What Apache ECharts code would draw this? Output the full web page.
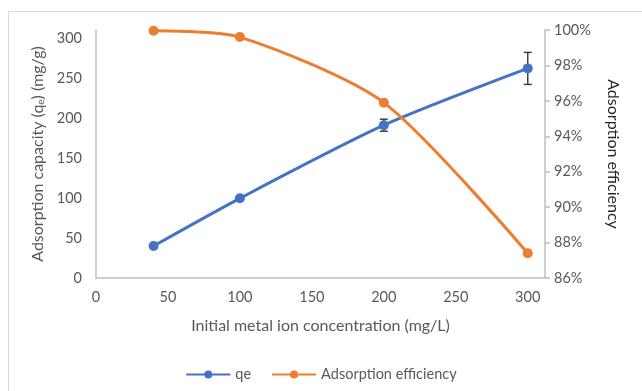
<!DOCTYPE html>
<html><head><meta charset="utf-8">
<script src="https://cdn.jsdelivr.net/npm/echarts@6/dist/echarts.min.js"></script>
<style>html,body{margin:0;padding:0;background:#fff}#c{width:642px;height:391px}</style>
</head><body><div id="c"></div>
<script>
var concentrations = [40, 100, 200, 300];
var qe = [40, 99.6, 191, 262];
var qeError = [0, 0, 7.5, 20];
var efficiency = [99.96, 99.6, 95.9, 87.4];
var xTicks = [0, 50, 100, 150, 200, 250, 300];

var chart = echarts.init(document.getElementById('c'));
var font = 'Lato, "Open Sans", sans-serif';
var qeData = concentrations.map(function(x, i){ return [x, qe[i]]; });
var effData = concentrations.map(function(x, i){ return [x, efficiency[i]]; });
var errData = concentrations.map(function(x, i){ return [x, qe[i] - qeError[i], qe[i] + qeError[i]]; }).filter(function(d, i){ return qeError[i] > 0; });

chart.setOption({
  animation: false,
  backgroundColor: '#fff',
  textStyle: {fontFamily: font},
  graphic: [{type: 'rect', shape: {x: 8.5, y: 11.5, width: 700, height: 400}, style: {fill: 'none', stroke: '#d9d9d9', lineWidth: 1}, silent: true}],
  grid: {left: 96, right: 97, top: 30, bottom: 113, containLabel: false},
  legend: {
    top: 362, left: 'center', itemWidth: 44, itemHeight: 10, itemGap: 20,
    textStyle: {color: '#595959', fontSize: 14.5, fontFamily: font},
    data: ['qe', 'Adsorption efficiency']
  },
  xAxis: {
    type: 'value', min: 0, max: 312, interval: 50,
    name: 'Initial metal ion concentration (mg/L)', nameLocation: 'middle', nameGap: 40,
    nameTextStyle: {color: '#595959', fontSize: 16, fontFamily: font},
    axisLine: {show: true, lineStyle: {color: '#bfbfbf', width: 1.5}},
    axisTick: {show: false},
    splitLine: {show: false},
    axisLabel: {color: '#595959', fontSize: 14.5, margin: 12, showMaxLabel: false,
      formatter: function(v){ return xTicks.indexOf(v) >= 0 ? String(v) : ''; }}
  },
  yAxis: [{
    type: 'value', min: 0, max: 310, interval: 50,
    name: '{a|Adsorption capacity (q}{s|e}{a|) (mg/g)}', nameLocation: 'middle', nameGap: 40,
    nameTextStyle: {rich: {a: {color: '#595959', fontSize: 16, fontFamily: font}, s: {color: '#595959', fontSize: 10, fontFamily: font, verticalAlign: 'bottom', padding: [7,0,0,0]}}},
    axisLine: {show: true, lineStyle: {color: '#bfbfbf', width: 1.5}},
    axisTick: {show: false},
    splitLine: {show: false},
    axisLabel: {color: '#595959', fontSize: 14.5, margin: 14, showMaxLabel: false}
  }, {
    type: 'value', min: 86, max: 100, interval: 2, position: 'right',
    name: 'Adsorption efficiency', nameLocation: 'middle', nameGap: 60, nameRotate: -90,
    nameTextStyle: {color: '#262626', fontSize: 16, fontFamily: font},
    axisLine: {show: true, lineStyle: {color: '#bfbfbf', width: 1.5}},
    axisTick: {show: true, inside: false, length: 5, lineStyle: {color: '#bfbfbf', width: 1.5}},
    splitLine: {show: false},
    axisLabel: {color: '#595959', fontSize: 14.5, margin: 9, formatter: function(v){ return v + '%'; }}
  }],
  series: [{
    name: 'qe', type: 'line', data: qeData, yAxisIndex: 0, smooth: 0.25,
    symbol: 'circle', symbolSize: 10, clip: false,
    lineStyle: {color: '#4472c4', width: 3}, itemStyle: {color: '#4472c4'}, z: 3
  }, {
    type: 'custom', yAxisIndex: 0, data: errData, z: 2, silent: true,
    renderItem: function(params, api){
      var x = api.value(0), lo = api.coord([x, api.value(1)]), hi = api.coord([x, api.value(2)]);
      var w = 4;
      var st = {stroke: '#404040', lineWidth: 1.5};
      return {type: 'group', children: [
        {type: 'line', shape: {x1: lo[0], y1: lo[1], x2: hi[0], y2: hi[1]}, style: st},
        {type: 'line', shape: {x1: lo[0]-w, y1: lo[1], x2: lo[0]+w, y2: lo[1]}, style: st},
        {type: 'line', shape: {x1: hi[0]-w, y1: hi[1], x2: hi[0]+w, y2: hi[1]}, style: st}
      ]};
    }
  }, {
    name: 'Adsorption efficiency', type: 'line', data: effData, yAxisIndex: 1, smooth: 0.25,
    symbol: 'circle', symbolSize: 10, clip: false,
    lineStyle: {color: '#ed7d31', width: 3}, itemStyle: {color: '#ed7d31'}, z: 4
  }]
});
</script></body></html>
